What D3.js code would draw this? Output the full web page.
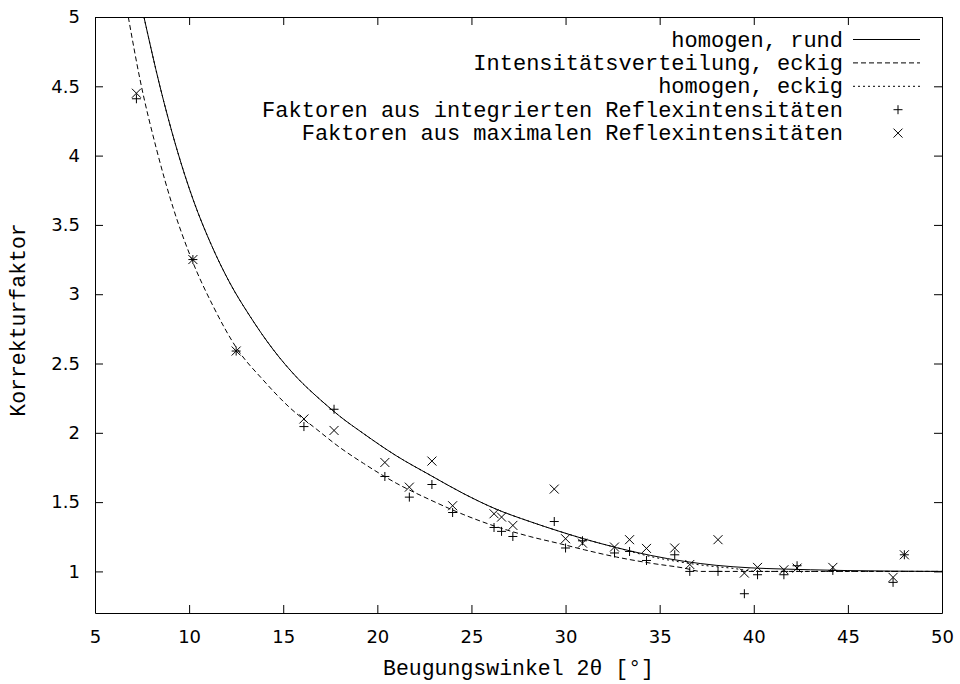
<!DOCTYPE html>
<html>
<head>
<meta charset="utf-8">
<script src="https://cdn.jsdelivr.net/npm/d3@7"></script>
<style>
    body { margin: 0; background: #fff; }
    svg { display: block; }
</style>
</head>
<body>
<div id="chart"></div>
<script>
// measured reflections (2theta in degrees)
const angles = [7.2, 10.2, 12.5, 16.1, 17.7, 20.4, 21.7, 22.9, 24.0, 26.2, 26.6, 27.2, 29.4, 30.0,
    30.9, 32.6, 33.4, 34.3, 35.8, 36.6, 38.1, 39.5, 40.2, 41.6, 42.3, 44.2, 47.4, 48.0];
const integrated = [4.41, 3.25, 2.59, 2.045, 2.17, 1.685, 1.536, 1.627, 1.425, 1.317, 1.289, 1.252, 1.36, 1.169,
    1.221, 1.133, 1.144, 1.079, 1.12, 1.0, 1.0, 0.839, 0.976, 0.976, 1.041, 1.007, 0.921, 1.12];
const maximal = [4.45, 3.25, 2.59, 2.1, 2.017, 1.786, 1.608, 1.796, 1.474, 1.416, 1.392, 1.332, 1.594, 1.236,
    1.204, 1.176, 1.229, 1.166, 1.169, 1.05, 1.229, 0.988, 1.029, 1.012, 1.024, 1.029, 0.957, 1.12];

// model curves
const rundX = [7.6, 8.45, 9.34, 10.22, 11.2, 12.17, 13.24, 14.47, 15.72, 16.96, 18.0, 19.26, 21.0, 22.8,
    24.6, 26.3, 28.1, 29.7, 31.0, 32.7, 34.5, 36.3, 38.0, 39.8, 41.6, 43.0, 45.0, 47.5, 50.0];
const rundY = [5.0, 4.5, 4.05, 3.68, 3.35, 3.08, 2.84, 2.6, 2.4, 2.24, 2.12, 1.995, 1.835, 1.695,
    1.56, 1.45, 1.36, 1.288, 1.234, 1.172, 1.116, 1.073, 1.044, 1.026, 1.017, 1.012, 1.006, 1.002, 1.0];
const verteilungX = [6.77, 7.39, 8.28, 9.16, 10.14, 11.29, 12.53, 13.94, 15.36, 16.78, 18.0, 19.26, 21.0,
    22.8, 24.6, 26.3, 28.1, 29.7, 31.0, 32.7, 34.5, 36.3, 37.2, 50.0];
const verteilungY = [5.0, 4.55, 4.04, 3.62, 3.25, 2.91, 2.61, 2.38, 2.18, 2.025, 1.895, 1.78, 1.637,
    1.517, 1.409, 1.324, 1.252, 1.2, 1.156, 1.104, 1.06, 1.024, 1.0, 1.0];
const eckigX = [7.6, 8.45, 9.34, 10.22, 11.2, 12.17, 13.24, 14.47, 15.72, 16.96, 18.0, 19.26, 21.0, 22.8,
    24.6, 26.3, 28.1, 29.7, 31.0, 32.7, 34.5, 36.0, 37.2, 38.9, 40.2, 50.0];
const eckigY = [5.0, 4.5, 4.05, 3.68, 3.35, 3.08, 2.84, 2.6, 2.4, 2.24, 2.12, 1.995, 1.835, 1.695,
    1.56, 1.45, 1.36, 1.288, 1.234, 1.172, 1.108, 1.07, 1.046, 1.022, 1.0, 1.0];

const xTicks = [5, 10, 15, 20, 25, 30, 35, 40, 45, 50];
const yTicks = [1, 1.5, 2, 2.5, 3, 3.5, 4, 4.5, 5];

const width = 960;
const height = 684;
const margin = { top: 17, right: 18, bottom: 71, left: 95 };
const mono = "'Courier New', 'Liberation Mono', monospace";
const sans = "'DejaVu Sans', sans-serif";

const svg = d3.select('#chart').append('svg').attr('width', width).attr('height', height);

const x = d3.scaleLinear().domain([5, 50]).range([margin.left, width - margin.right]);
const y = d3.scaleLinear().domain([0.7, 5]).range([height - margin.bottom, margin.top]);

svg.append('clipPath')
    .attr('id', 'plot')
    .append('rect')
    .attr('x', x(5))
    .attr('y', y(5))
    .attr('width', x(50) - x(5))
    .attr('height', y(0.7) - y(5));

// axes, ticks pointing inward on all four sides
const tick = 8;
const fmt = d3.format('~g');
svg.append('g')
    .attr('transform', `translate(0,${y(0.7)})`)
    .call(d3.axisBottom(x).tickValues(xTicks).tickFormat(fmt).tickSizeInner(-tick).tickSizeOuter(0).tickPadding(17));
svg.append('g')
    .attr('transform', `translate(0,${y(5)})`)
    .call(d3.axisTop(x).tickValues(xTicks).tickFormat('').tickSizeInner(-tick).tickSizeOuter(0));
svg.append('g')
    .attr('transform', `translate(${x(5)},0)`)
    .call(d3.axisLeft(y).tickValues(yTicks).tickFormat(fmt).tickSizeInner(-tick).tickSizeOuter(0).tickPadding(15));
svg.append('g')
    .attr('transform', `translate(${x(50)},0)`)
    .call(d3.axisRight(y).tickValues(yTicks).tickFormat('').tickSizeInner(-tick).tickSizeOuter(0));

svg.selectAll('.domain, .tick line').attr('stroke', '#000').attr('stroke-width', 1);
svg.selectAll('.tick text').attr('fill', '#000').style('font-family', sans).style('font-size', '18px');

svg.append('text')
    .attr('x', (x(5) + x(50)) / 2)
    .attr('y', 675)
    .attr('text-anchor', 'middle')
    .style('font-family', mono)
    .style('font-size', '21.5px')
    .text('Beugungswinkel 2θ [°]');

svg.append('text')
    .attr('transform', `translate(25,320) rotate(-90)`)
    .attr('text-anchor', 'middle')
    .style('font-family', mono)
    .style('font-size', '21.5px')
    .text('Korrekturfaktor');

// curves
const curves = [
    { name: 'homogen, rund', xs: rundX, ys: rundY, dash: null },
    { name: 'Intensitätsverteilung, eckig', xs: verteilungX, ys: verteilungY, dash: '5,3' },
    { name: 'homogen, eckig', xs: eckigX, ys: eckigY, dash: '2,3' },
];
const line = d3.line()
    .x((d) => x(d[0]))
    .y((d) => y(d[1]))
    .curve(d3.curveMonotoneX);

const plot = svg.append('g').attr('clip-path', 'url(#plot)');
plot.selectAll('path.curve')
    .data(curves)
    .join('path')
    .attr('class', 'curve')
    .attr('fill', 'none')
    .attr('stroke', '#000')
    .attr('stroke-width', 1)
    .attr('stroke-dasharray', (d) => d.dash)
    .attr('d', (d) => line(d.xs.map((v, i) => [v, d.ys[i]])));

// point symbols
const r = 4.5;
const plus = (cx, cy) => `M${cx - r},${cy}H${cx + r}M${cx},${cy - r}V${cy + r}`;
const cross = (cx, cy) => `M${cx - r},${cy - r}L${cx + r},${cy + r}M${cx - r},${cy + r}L${cx + r},${cy - r}`;

plot.selectAll('path.plus')
    .data(angles)
    .join('path')
    .attr('class', 'plus')
    .attr('stroke', '#000')
    .attr('d', (d, i) => plus(x(d), y(integrated[i])));
plot.selectAll('path.cross')
    .data(angles)
    .join('path')
    .attr('class', 'cross')
    .attr('stroke', '#000')
    .attr('d', (d, i) => cross(x(d), y(maximal[i])));

// legend, gnuplot style: right aligned text, sample on the right
const legendItems = [
    ...curves.map((c) => ({ name: c.name, dash: c.dash, mark: null })),
    { name: 'Faktoren aus integrierten Reflexintensitäten', mark: plus },
    { name: 'Faktoren aus maximalen Reflexintensitäten', mark: cross },
];
const legend = svg.append('g');
legendItems.forEach((d, i) => {
    const ly = 39.5 + i * 23.4;
    legend.append('text')
        .attr('x', 843)
        .attr('y', ly)
        .attr('dy', '0.32em')
        .attr('text-anchor', 'end')
        .style('font-family', mono)
        .style('font-size', '22px')
        .text(d.name);
    if (d.mark)
        legend.append('path').attr('stroke', '#000').attr('d', d.mark(898, ly));
    else
        legend.append('line')
            .attr('x1', 853)
            .attr('x2', 920)
            .attr('y1', ly)
            .attr('y2', ly)
            .attr('stroke', '#000')
            .attr('stroke-dasharray', d.dash);
});
</script>
</body>
</html>
